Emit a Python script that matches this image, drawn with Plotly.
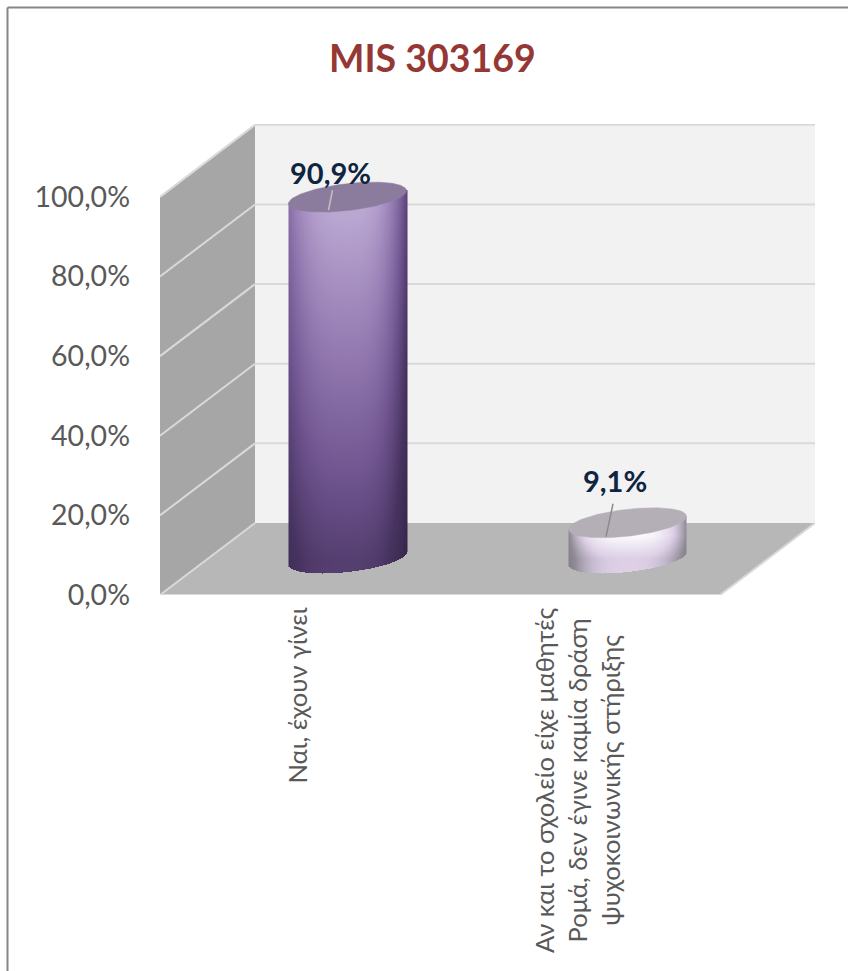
import numpy as np
import plotly.graph_objects as go

# ---- chart data ----
title = "MIS 303169"
categories = ["Ναι, έχουν γίνει",
              "Αν και το σχολείο είχε μαθητές<br>Ρομά, δεν έγινε καμία δράση<br>ψυχοκοινωνικής στήριξης"]
values = [90.9, 9.1]
value_labels = ["90,9%", "9,1%"]
y_ticks = [0, 20, 40, 60, 80, 100]
y_tick_labels = ["0,0%", "20,0%", "40,0%", "60,0%", "80,0%", "100,0%"]

# ---- geometry (pixels per axis unit and oblique depth) ----
W, H = 848, 971
L, R, T, B = 160, 815, 124, 595
PX = 280.0            # px per category
PY = (B - T) / 118.3  # px per percent
DX = 95 / PX          # depth offset in x units
DY = 72 / PY          # depth offset in percent units
A, S, E = 59 / PX, 6.5 / PY, 13.5 / PY  # ellipse half width, tilt, half depth

XR = (R - L) / PX
YR = (B - T) / PY


def poly(xs, ys, fill, line="rgba(0,0,0,0)", w=0):
    path = "M " + " L ".join(f"{x},{y}" for x, y in zip(xs, ys)) + " Z"
    return dict(type="path", path=path, xref="x", yref="y", fillcolor=fill,
                line=dict(color=line, width=w), layer="below")


def seg(x0, y0, x1, y1, color, w=2, layer="below"):
    return dict(type="line", x0=x0, y0=y0, x1=x1, y1=y1, xref="x", yref="y",
                line=dict(color=color, width=w), layer=layer)


n_cat = len(categories)
shapes = [
    poly([DX, DX + n_cat, DX + n_cat, DX], [DY, DY, DY + 100, DY + 100], "#f2f2f2"),
    poly([0, DX, DX, 0], [0, DY, DY + 100, 100], "#a6a6a6"),
    poly([0, n_cat, DX + n_cat, DX], [0, 0, DY, DY], "#b7b7b7"),
]
for t in y_ticks[1:]:
    shapes.append(seg(DX, DY + t, DX + n_cat, DY + t, "#d9d9d9"))
    shapes.append(seg(0, t, DX, DY + t, "#d9d9d9"))
shapes.append(seg(0, 0, DX, DY, "#d9d9d9"))
shapes.append(seg(0, 0, n_cat, 0, "#d9d9d9"))
shapes.append(seg(n_cat, 0, DX + n_cat, DY, "#d9d9d9"))
# chart frame
shapes.append(dict(type="line", xref="paper", yref="paper",
                   x0=(7.5 - L) / (R - L), x1=(W - L) / (R - L),
                   y0=(B - 7.5) / (B - T), y1=(B - 7.5) / (B - T),
                   line=dict(color="#868686", width=2)))
shapes.append(dict(type="line", xref="paper", yref="paper",
                   x0=(7.5 - L) / (R - L), x1=(7.5 - L) / (R - L),
                   y0=(B - 7.5) / (B - T), y1=(B - H) / (B - T),
                   line=dict(color="#868686", width=2)))


def body(cx, val, shade):
    base = DY / 2
    top = base + val
    xs = np.arange(cx - A, cx + A, 1 / PX) + 0.5 / PX
    ys = np.arange(base - E - S - 1, top + E + S, 1 / PY)
    u = (xs - cx) / A
    UU, YY = np.meshgrid(u, ys)
    root = np.sqrt(np.clip(1 - UU ** 2, 0, 1))
    low = base + S * UU - E * root
    high = top + S * UU
    v = np.clip((YY - base) / val, 0, 1)
    z = shade(UU, v)
    z[(YY < low) | (YY > high)] = np.nan
    return xs, ys, z


def shade_dark(u, v):
    k = np.where(u < 0, 0.30, 0.55)
    return (0.42 + 0.58 * v) * (1 - k * np.abs(u) ** 3)


def shade_light(u, v):
    vis = np.clip(v / 0.62, 0, 1)
    return (0.72 + 0.28 * vis) * (1 - 0.62 * np.abs(u) ** 3)


scales = [
    [[0, "#21172f"], [0.35, "#473360"], [0.55, "#6f548f"], [0.8, "#9c83b8"], [1, "#bfadd6"]],
    [[0, "#6f6a75"], [0.4, "#8f8a96"], [0.72, "#dccfe6"], [1, "#fbfafc"]],
]
shaders = [shade_dark, shade_light]
top_fill = ["#8b7c9e", "#b4afb6"]
leader_col = ["#c4c0c6", "#8c8c8c"]
leader = [((-15, -7), (-19, 13)), ((-14.5, -19), (-21.5, 14))]  # px from top centre
label_off = [(-17, -25), (-13, -42)]

fig = go.Figure()
annotations = []
t_par = np.linspace(0, 2 * np.pi, 121)
for i, val in enumerate(values):
    cx = i + 0.5 + DX / 2
    xs, ys, z = body(cx, val, shaders[i])
    fig.add_trace(go.Heatmap(x=xs, y=ys, z=z, zmin=0, zmax=1, colorscale=scales[i],
                             showscale=False, hoverinfo="skip", zsmooth=False))
    top = DY / 2 + val
    fig.add_trace(go.Scatter(x=cx + A * np.cos(t_par),
                             y=top + S * np.cos(t_par) + E * np.sin(t_par),
                             mode="lines", fill="toself", fillcolor=top_fill[i],
                             line=dict(color=top_fill[i], width=0.5),
                             hoverinfo="skip", showlegend=False))
    (a, b), (c, d) = leader[i]
    fig.add_trace(go.Scatter(x=[cx + a / PX, cx + c / PX], y=[top - b / PY, top - d / PY],
                             mode="lines", line=dict(color=leader_col[i], width=1.5),
                             hoverinfo="skip", showlegend=False))
    annotations.append(dict(x=cx, y=top, xref="x", yref="y", text=f"<b>{value_labels[i]}</b>",
                            showarrow=False, xshift=label_off[i][0], yshift=-label_off[i][1],
                            font=dict(family="Lato", size=29, color="#0f243e")))
    annotations.append(dict(x=i + 0.5, y=(B - 606) / (B - T), xref="x", yref="paper",
                            text=categories[i], textangle=-90, showarrow=False, yanchor="top",
                            xshift=-3.5, align="center",
                            font=dict(family="Lato", size=25.5, color="#595959")))

annotations.append(dict(x=(432 - L) / (R - L), y=(B - 57) / (B - T), xref="paper", yref="paper",
                        xanchor="center", yanchor="middle",
                        text=f"<b>{title}</b>", showarrow=False,
                        font=dict(family="Lato", size=37.5, color="#953735")))

fig.update_layout(
    width=W, height=H, autosize=False,
    margin=dict(l=L, r=W - R, t=T, b=H - B, pad=0),
    paper_bgcolor="white", plot_bgcolor="rgba(0,0,0,0)",
    showlegend=False, shapes=shapes, annotations=annotations,
    xaxis=dict(range=[0, XR], showgrid=False, zeroline=False, showticklabels=False,
               showline=False, ticks="", fixedrange=True),
    yaxis=dict(range=[0, YR], showgrid=False, zeroline=False, showline=False,
               tickmode="array", tickvals=y_ticks, ticktext=y_tick_labels,
               ticks="", ticklabelstandoff=29, fixedrange=True,
               tickfont=dict(family="Lato", size=28.5, color="#595959")),
)
fig.write_html("out.html", config=dict(displayModeBar=False),
               post_script="document.body.style.margin='0';")
